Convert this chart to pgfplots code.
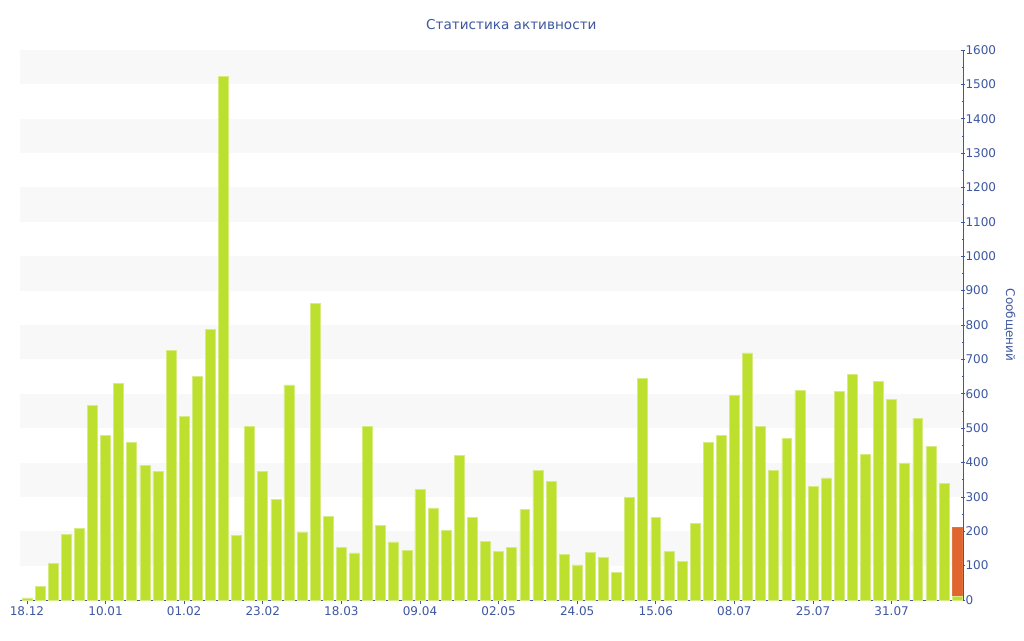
\documentclass[border=0pt]{standalone}
\usepackage{pgfplots}
\pgfplotsset{compat=1.18}
\usepackage{fontspec}
\setmainfont{DejaVu Sans}
\definecolor{axisblue}{RGB}{61,87,160}
\definecolor{bargreen}{RGB}{189,224,47}
\definecolor{baredge}{RGB}{214,236,130}
\definecolor{barorange}{RGB}{224,101,47}
\definecolor{band}{RGB}{248,248,248}
\begin{document}
\begin{tikzpicture}[x=1pt,y=1pt]
\path[use as bounding box] (0,0) rectangle (1024,640);
\foreach \k in {1,3,...,15} {
  \fill[band] (20,{40+34.375*\k}) rectangle (963,{40+34.375*(\k+1)});
}
\begin{axis}[
  at={(20pt,40pt)}, anchor=south west,
  scale only axis, width=943pt, height=550pt,
  xmin=-0.53, xmax=71.45,
  ymin=0, ymax=1600,
  ybar stacked, bar width=0.76,
  axis x line=bottom, axis y line=right,
  axis line style={draw=axisblue, line width=0.9pt, -},
  xtick={0,6,...,66},
  xticklabels={18.12,10.01,01.02,23.02,18.03,09.04,02.05,24.05,15.06,08.07,25.07,31.07},
  x tick style={draw=axisblue, line width=0.6pt},
  xtick align=outside, major tick length=4pt,
  ytick={0,100,...,1600},
  minor y tick num=1,
  y tick style={draw=axisblue, line width=0.6pt},
  ytick align=center,
  yticklabel style={font=\fontsize{12}{12}\selectfont, text=axisblue, xshift=-3pt},
  xticklabel style={font=\fontsize{12}{12}\selectfont, text=axisblue, yshift=1pt},
  /pgf/number format/assume math mode=true,
  /pgf/number format/1000 sep={},
  ylabel={Сообщений},
  ylabel style={font=\fontsize{12}{12}\selectfont, text=axisblue, rotate=180, at={(axis description cs:1.0498,0.5)}, anchor=center},
  title={Статистика активности},
  title style={font=\fontsize{13.6}{13.6}\selectfont, text=axisblue, at={(axis description cs:0.521,1)}, anchor=south, yshift=11pt},
  clip=false,
]
\addplot[fill=bargreen, draw=baredge, line width=0.6pt] coordinates {
(0,6) (1,39) (2,107) (3,191) (4,208) (5,566) (6,479) (7,630) (8,459) (9,391)
(10,374) (11,725) (12,534) (13,650) (14,788) (15,1524) (16,189) (17,504) (18,374) (19,293)
(20,626) (21,198) (22,862) (23,244) (24,153) (25,137) (26,505) (27,216) (28,169) (29,145)
(30,322) (31,268) (32,203) (33,420) (34,240) (35,171) (36,142) (37,153) (38,264) (39,378)
(40,345) (41,133) (42,102) (43,139) (44,124) (45,81) (46,298) (47,645) (48,240) (49,142)
(50,112) (51,223) (52,459) (53,478) (54,595) (55,719) (56,505) (57,377) (58,469) (59,610)
(60,330) (61,355) (62,606) (63,657) (64,424) (65,636) (66,584) (67,399) (68,528) (69,448)
(70,340) (71,10)
};
\addplot[fill=barorange, draw=barorange!90!white, line width=0.6pt] coordinates {
(71,205)
};
\end{axis}
\end{tikzpicture}
\end{document}
